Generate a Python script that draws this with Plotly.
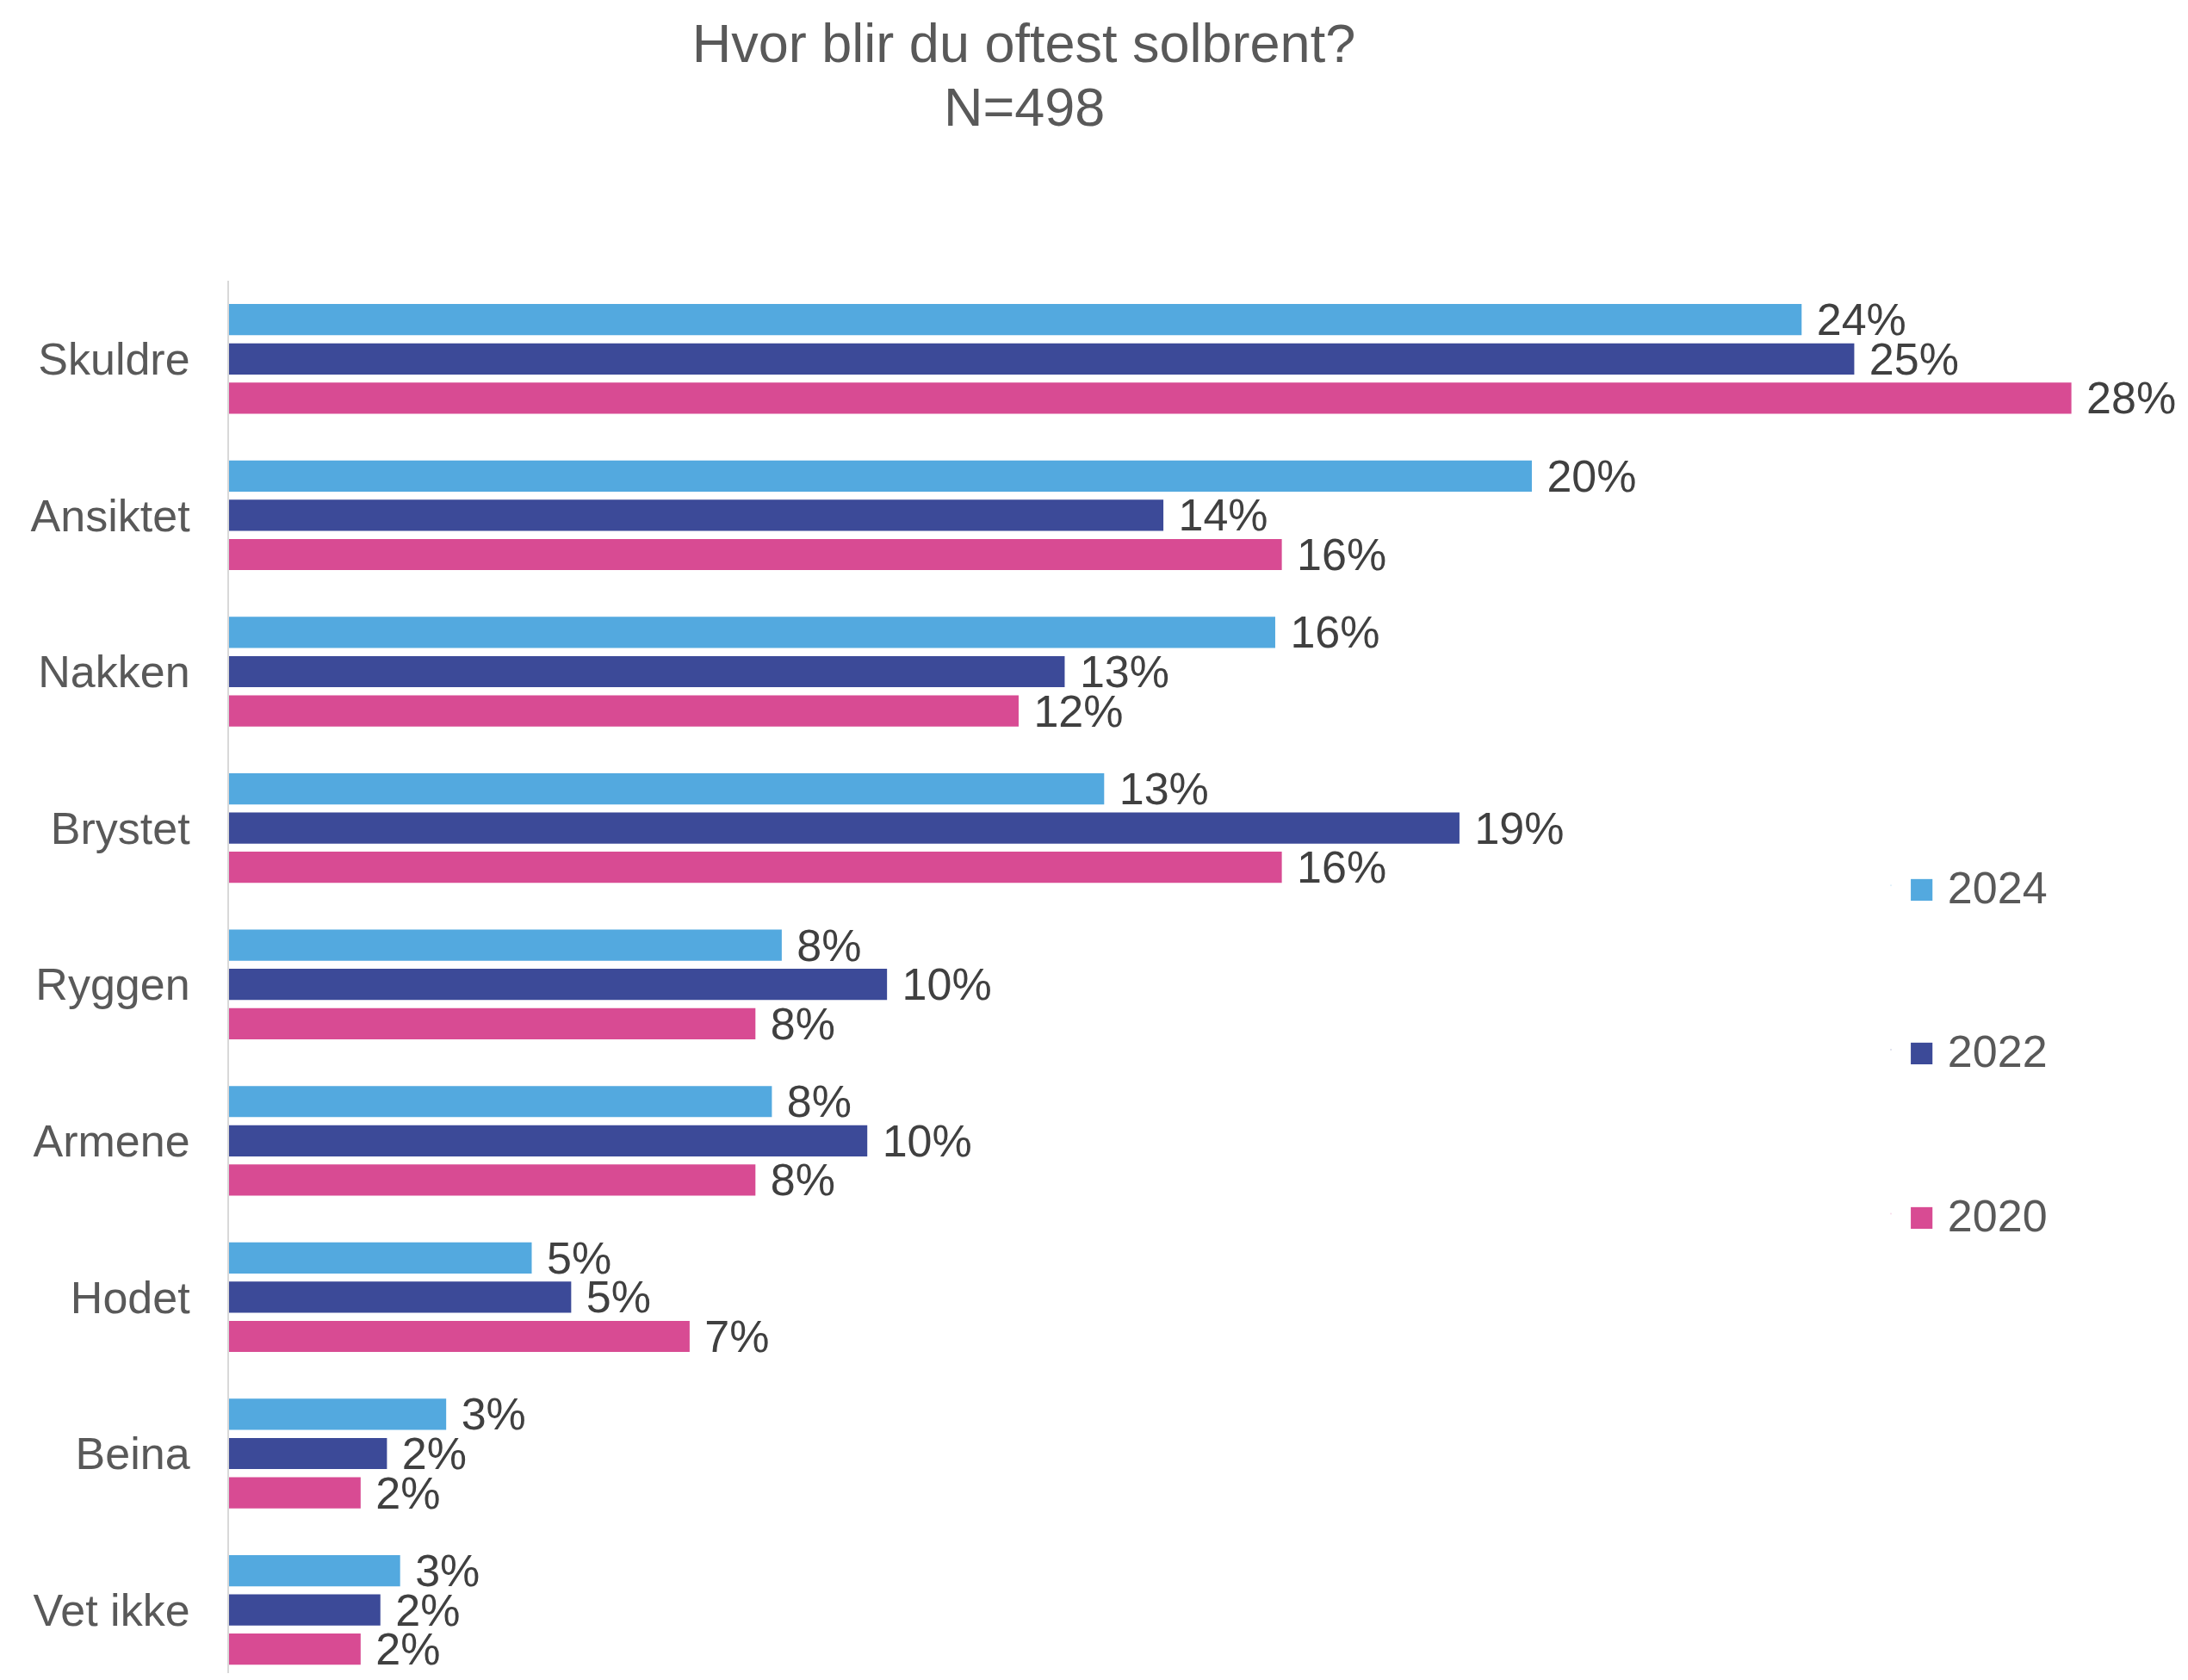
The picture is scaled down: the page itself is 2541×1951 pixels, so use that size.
import plotly.graph_objects as go

categories = ["Skuldre", "Ansiktet", "Nakken", "Brystet", "Ryggen", "Armene", "Hodet", "Beina", "Vet ikke"]
years = ["2024", "2022", "2020"]
v2024 = [23.9, 19.8, 15.9, 13.3, 8.4, 8.25, 4.6, 3.3, 2.6]
v2022 = [24.7, 14.2, 12.7, 18.7, 10.0, 9.7, 5.2, 2.4, 2.3]
v2020 = [28.0, 16.0, 12.0, 16.0, 8.0, 8.0, 7.0, 2.0, 2.0]
colors = ["#53A9DF", "#3C4A98", "#D84B93"]
title_line1 = "Hvor blir du oftest solbrent?"
title_line2 = "N=498"

# page has an 8px body margin; figure sized to fit inside the window
W, H = 2525, 1935
FONT = "Liberation Sans, Arial, sans-serif"
L, T = 258, 318
PLOT_W, PLOT_H = 2216, H - T

fig = go.Figure()
for name, vals, col in zip(years, [v2024, v2022, v2020], colors):
    fig.add_trace(go.Bar(
        y=categories, x=vals, name=name, orientation="h",
        marker=dict(color=col, line=dict(width=0)),
        text=["\u00a0" + f"{v:.0f}%" for v in vals],
        textposition="outside", cliponaxis=False, constraintext="none",
        textfont=dict(family=FONT, size=52, color="#404040"),
        showlegend=False,
    ))

# legend entries with large square swatches
for name, col in zip(years, colors):
    fig.add_trace(go.Scatter(
        x=[None], y=[None], mode="markers", name=f"<span style='color:{col}'>■</span> {name}",
        marker=dict(size=1, opacity=0, color=col),
        legendgroup=name, showlegend=True, hoverinfo="skip",
    ))

fig.add_annotation(
    text=title_line2, xref="paper", yref="paper",
    x=(1181 - L) / PLOT_W, y=(H - 116) / PLOT_H,
    xanchor="center", yanchor="middle", showarrow=False,
    font=dict(family=FONT, size=63, color="#595959"),
)

fig.update_layout(
    width=W, height=H,
    margin=dict(l=L, r=W - L - PLOT_W, t=T, b=0, pad=0),
    paper_bgcolor="white", plot_bgcolor="white",
    barmode="group", bargap=0.247, bargroupgap=0.206,
    title=dict(
        text=title_line1,
        x=1181 / W, xref="container", xanchor="center",
        y=1 - 42 / H, yref="container", yanchor="middle",
        font=dict(family=FONT, size=63, color="#595959"),
    ),
    xaxis=dict(range=[0, 29], visible=False, showgrid=False, zeroline=False),
    yaxis=dict(
        range=[8.404, -0.5], showgrid=False, zeroline=False,
        showline=True, linecolor="#D9D9D9", linewidth=2,
        ticks="", ticklabelstandoff=33,
        tickfont=dict(family=FONT, size=52, color="#595959"),
    ),
    legend=dict(
        x=1910 / PLOT_W, xanchor="left",
        y=(H - 1211) / PLOT_H, yanchor="middle",
        traceorder="grouped", tracegroupgap=120,
        font=dict(family=FONT, size=52, color="#595959"),
        bgcolor="rgba(0,0,0,0)", itemwidth=30,
    ),
    showlegend=True,
)

fig.write_html("out.html")
